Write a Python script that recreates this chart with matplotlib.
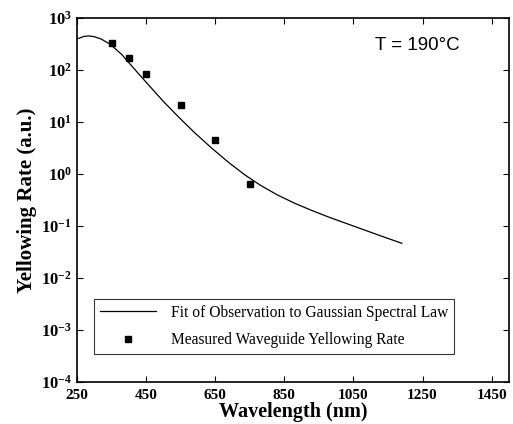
import matplotlib.pyplot as plt
import numpy as np

# Measured waveguide yellowing rate
meas_wl = [350, 400, 450, 550, 650, 750]
meas_rate = [335, 168, 86, 21, 4.5, 0.65]

# Gaussian spectral law fit
fit_wl = [250, 270, 285, 300, 320, 346, 380, 410, 450, 500, 544, 590, 640,
          690, 735, 780, 830, 880, 930, 980, 1030, 1080, 1130, 1190]
fit_log = [2.60, 2.65, 2.66, 2.645, 2.60, 2.50, 2.30, 2.07, 1.77, 1.40, 1.10,
           0.80, 0.50, 0.22, -0.01, -0.21, -0.40, -0.56, -0.70, -0.83,
           -0.95, -1.07, -1.19, -1.33]
fit_rate = 10 ** np.array(fit_log)

xticks = [250, 450, 650, 850, 1050, 1250, 1450]
yticks = [1e3, 1e2, 1e1, 1e0, 1e-1, 1e-2, 1e-3, 1e-4]
ytick_labels = ['$\\mathbf{10^{3}}$', '$\\mathbf{10^{2}}$', '$\\mathbf{10^{1}}$',
                '$\\mathbf{10^{0}}$', '$\\mathbf{10^{-1}}$', '$\\mathbf{10^{-2}}$',
                '$\\mathbf{10^{-3}}$', '$\\mathbf{10^{-4}}$']

plt.rcParams['font.family'] = 'Liberation Serif'
plt.rcParams['mathtext.fontset'] = 'custom'
plt.rcParams['mathtext.rm'] = 'Liberation Serif'
plt.rcParams['mathtext.bf'] = 'Liberation Serif:bold'

fig = plt.figure(figsize=(5.13, 4.24), dpi=100)
ax = fig.add_axes([0.150, 0.099, 0.842, 0.858])

ax.plot(fit_wl, fit_rate, color='black', lw=0.9,
        label='Fit of Observation to Gaussian Spectral Law')
ax.plot(meas_wl, meas_rate, 's', color='black', ms=4.5, ls='none',
        label='Measured Waveguide Yellowing Rate')

ax.set_yscale('log')
ax.set_xlim(250, 1500)
ax.set_ylim(1e-4, 1e3)
ax.set_xticks(xticks)
ax.set_xticklabels([str(t) for t in xticks], fontweight='bold', fontsize=11)
ax.set_yticks(yticks)
ax.set_yticklabels(ytick_labels, fontsize=12)
ax.minorticks_off()
ax.tick_params(direction='in', top=True, right=True, length=4, width=0.8)
ax.tick_params(axis='x', pad=5)

for s in ax.spines.values():
    s.set_linewidth(1.2)

ax.set_xlabel('Wavelength (nm)', fontsize=14.5, fontweight='bold', labelpad=0)
ax.set_ylabel('Yellowing Rate (a.u.)', fontsize=15, fontweight='bold', labelpad=3)

ax.text(0.69, 0.926, 'T = 190°C', transform=ax.transAxes, fontsize=13.5,
        family='Liberation Sans', ha='left', va='center')

leg = ax.legend(loc='lower left', bbox_to_anchor=(0.04, 0.078), fontsize=11.2,
                frameon=True, fancybox=False, edgecolor='black',
                handlelength=3.6, handletextpad=1.0, borderpad=0.35,
                borderaxespad=0, labelspacing=0.75)
leg.get_frame().set_linewidth(0.8)

fig.savefig('out.png', dpi=100)
